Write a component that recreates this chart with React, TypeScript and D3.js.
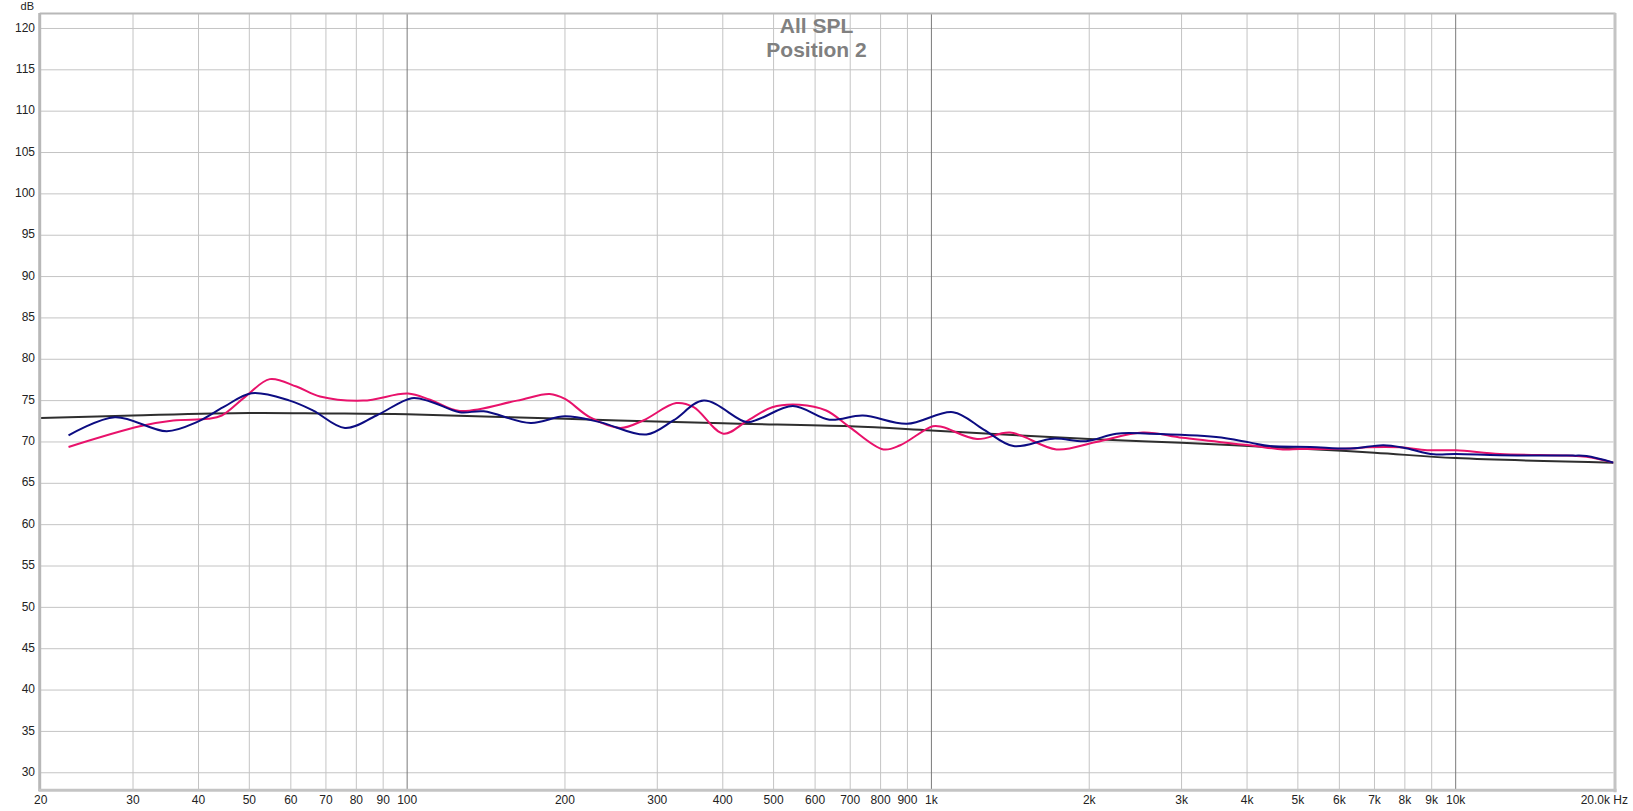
import React from "react";
import * as d3 from "d3";

const W = 1633;
const H = 811;

const TITLE = ["All SPL", "Position 2"];
const Y_TICKS = [30, 35, 40, 45, 50, 55, 60, 65, 70, 75, 80, 85, 90, 95, 100, 105, 110, 115, 120];
const X_GRID = [30, 40, 50, 60, 70, 80, 90, 200, 300, 400, 500, 600, 700, 800, 900, 2000, 3000, 4000, 5000, 6000, 7000, 8000, 9000];
const X_DECADES = [100, 1000, 10000];
const X_LABELS: [number, string][] = [
  [20, "20"], [30, "30"], [40, "40"], [50, "50"], [60, "60"], [70, "70"], [80, "80"], [90, "90"], [100, "100"],
  [200, "200"], [300, "300"], [400, "400"], [500, "500"], [600, "600"], [700, "700"], [800, "800"], [900, "900"], [1000, "1k"],
  [2000, "2k"], [3000, "3k"], [4000, "4k"], [5000, "5k"], [6000, "6k"], [7000, "7k"], [8000, "8k"], [9000, "9k"], [10000, "10k"],
];

const blueFreq = [22.6, 27.7, 34.8, 39.7, 44.6, 50.5, 59.7, 66.2, 76.1, 87.4, 102, 110.6, 126, 140, 172, 200, 233, 286, 322, 368, 444, 470, 544, 639, 740, 898, 1100, 1258, 1434, 1706, 1972, 2252, 2606, 3492, 4040, 4420, 5280, 6300, 7280, 7960, 9080, 10000, 12140, 16740, 17760, 20000];
const blueDb = [70.8, 73.0, 71.3, 72.4, 74.2, 75.9, 75.0, 73.8, 71.7, 73.2, 75.3, 74.9, 73.6, 73.7, 72.3, 73.1, 72.4, 70.9, 72.6, 75.0, 72.4, 72.8, 74.35, 72.7, 73.2, 72.2, 73.6, 71.5, 69.5, 70.4, 70.1, 71.0, 71.0, 70.6, 69.95, 69.5, 69.4, 69.2, 69.6, 69.3, 68.5, 68.55, 68.4, 68.35, 68.3, 67.5];

const pinkFreq = [22.6, 30.9, 35.8, 41.7, 44.3, 49.4, 54.7, 61.5, 68.2, 82.4, 100.4, 110.6, 126, 162, 187, 200, 223, 255, 282, 326, 352, 401, 444, 497, 560, 630, 698, 810, 872, 1006, 1050, 1222, 1412, 1732, 2062, 2532, 3014, 4040, 4680, 5040, 6300, 6780, 7830, 8820, 10000, 12140, 16290, 17760, 20000];
const pinkDb = [69.4, 71.9, 72.6, 72.8, 73.2, 75.6, 77.6, 76.7, 75.5, 75.0, 75.85, 75.1, 73.75, 75.0, 75.8, 75.2, 73.0, 71.7, 72.6, 74.7, 74.2, 71.0, 72.5, 74.2, 74.5, 73.8, 71.8, 69.1, 69.6, 71.9, 71.8, 70.35, 71.15, 69.1, 70.0, 71.15, 70.5, 69.6, 69.1, 69.15, 69.2, 69.35, 69.35, 69.0, 69.0, 68.55, 68.35, 68.2, 67.5];

const blackFreq = [20, 30, 50, 70, 100, 200, 400, 700, 1000, 2000, 3000, 5000, 7000, 10000, 20000];
const blackDb = [72.9, 73.2, 73.5, 73.45, 73.35, 72.8, 72.25, 71.9, 71.4, 70.35, 69.9, 69.2, 68.7, 68.05, 67.5];

const PL = 40.7, PR = 1613.5, PT = 14, PB = 789.3;

export default function App() {
  const x = d3.scaleLog().domain([20, 20000]).range([PL, PR]);
  const y = d3.scaleLinear().domain([28, 121.75]).range([PB, PT]);
  const line = d3
    .line<[number, number]>()
    .x((d) => x(d[0]))
    .y((d) => y(d[1]))
    .curve(d3.curveCatmullRom.alpha(0.5));
  const mk = (f: number[], v: number[]) => line(f.map((ff, i) => [ff, v[i]] as [number, number])) || "";
  const font = "'Liberation Sans', Arial, sans-serif";

  return (
    <svg width={W} height={H} style={{ position: "absolute", left: 0, top: 0, display: "block", background: "#fff" }}>
      <rect x={0} y={0} width={W} height={H} fill="#fff" />
      {Y_TICKS.map((t) => (
        <line key={"h" + t} x1={PL} x2={PR} y1={y(t)} y2={y(t)} stroke="#c4c4c4" strokeWidth={1} />
      ))}
      {X_GRID.map((f) => (
        <line key={"v" + f} x1={x(f)} x2={x(f)} y1={PT} y2={PB} stroke="#c4c4c4" strokeWidth={1} />
      ))}
      {X_DECADES.map((f) => (
        <line key={"d" + f} x1={x(f)} x2={x(f)} y1={PT} y2={PB} stroke="#7a7a7a" strokeWidth={1} />
      ))}
      <g fontFamily={font} fontWeight="bold" fontSize={21} fill="#808080" textAnchor="middle">
        <text x={816.5} y={33}>{TITLE[0]}</text>
        <text x={816.5} y={56.5}>{TITLE[1]}</text>
      </g>
      <path d={mk(blackFreq, blackDb)} fill="none" stroke="#2e2e2e" strokeWidth={2} />
      <path d={mk(pinkFreq, pinkDb)} fill="none" stroke="#e8126b" strokeWidth={2} />
      <path d={mk(blueFreq, blueDb)} fill="none" stroke="#0c0c82" strokeWidth={2} />
      {/* frame */}
      <line x1={PL - 1} x2={PR + 2} y1={PT - 0.5} y2={PT - 0.5} stroke="#b8b8b8" strokeWidth={2} />
      <line x1={PL - 1} x2={PL - 1} y1={PT - 1} y2={PB + 2} stroke="#b8b8b8" strokeWidth={3} />
      <line x1={PR + 1.5} x2={PR + 1.5} y1={PT - 1} y2={PB + 3} stroke="#c4c4c4" strokeWidth={3} />
      <line x1={PL - 2} x2={PR + 3} y1={PB + 1} y2={PB + 1} stroke="#c4c4c4" strokeWidth={3} />
      <g fontFamily={font} fontSize={12} fill="#222">
        <text x={34} y={10} textAnchor="end" fontSize={11}>dB</text>
        {Y_TICKS.map((t) => (
          <text key={"yl" + t} x={35} y={y(t)} dominantBaseline="middle" textAnchor="end">{t}</text>
        ))}
        {X_LABELS.map(([f, s]) => (
          <text key={"xl" + f} x={x(f)} y={801} dominantBaseline="middle" textAnchor="middle">{s}</text>
        ))}
        <text x={1628} y={801} dominantBaseline="middle" textAnchor="end">20.0k Hz</text>
      </g>
    </svg>
  );
}
